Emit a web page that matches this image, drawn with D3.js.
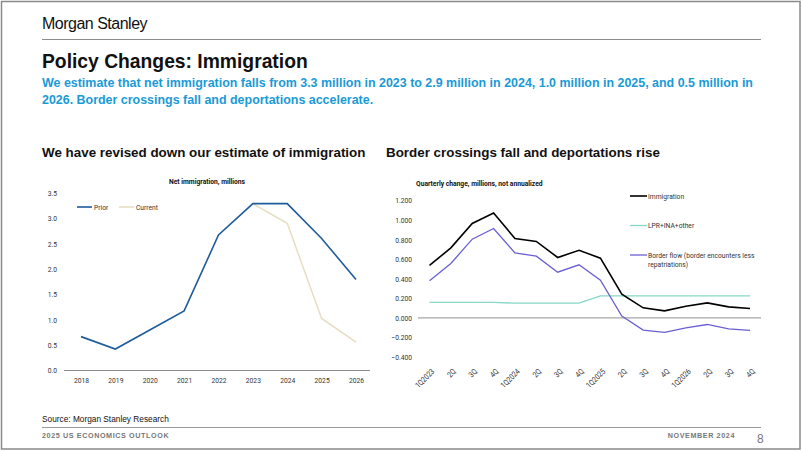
<!DOCTYPE html>
<html><head><meta charset="utf-8">
<script src="https://cdn.jsdelivr.net/npm/d3@7"></script>
<style>
html,body{margin:0;padding:0;background:#fff;}
svg{display:block;}
</style></head>
<body>
<svg id="c" width="802" height="451"></svg>
<script>
// ---- Data ----
const years = ["2018","2019","2020","2021","2022","2023","2024","2025","2026"];
const priorValues = [0.66, 0.415, 0.79, 1.17, 2.67, 3.29, 3.29, 2.6, 1.79];
const currentValues = [null, null, null, null, null, 3.29, 2.9, 1.02, 0.55];
const leftTicks = [0.0, 0.5, 1.0, 1.5, 2.0, 2.5, 3.0, 3.5];

const quarters = ["1Q2023","2Q","3Q","4Q","1Q2024","2Q","3Q","4Q","1Q2025","2Q","3Q","4Q","1Q2026","2Q","3Q","4Q"];
const immigration = [0.535, 0.714, 0.963, 1.071, 0.81, 0.78, 0.616, 0.69, 0.609, 0.242, 0.102, 0.071, 0.119, 0.153, 0.112, 0.096];
const lprIna = [0.157, 0.157, 0.157, 0.157, 0.15, 0.15, 0.15, 0.15, 0.225, 0.225, 0.225, 0.225, 0.225, 0.225, 0.225, 0.225];
const borderFlow = [0.378, 0.555, 0.803, 0.912, 0.663, 0.63, 0.466, 0.541, 0.385, 0.017, -0.126, -0.149, -0.102, -0.068, -0.112, -0.129];
const rightTicks = [-0.4, -0.2, 0.0, 0.2, 0.4, 0.6, 0.8, 1.0, 1.2];

const svg = d3.select("#c");
const SANS = "'Liberation Sans', Arial, sans-serif";
const COND = "'Roboto', 'Liberation Sans', sans-serif";
const FS = 8;
const SX = 0.84; // horizontal condensing to mimic a condensed face
const cond = `scale(${SX},1)`;

// helper: condensed text placed at (x,y)
function ctext(parent, x, y, str, opts = {}) {
  const g = parent.append("g").attr("transform", `translate(${x},${y}) ${cond}`);
  const t = g.append("text").text(str)
    .attr("font-family", COND).attr("font-size", opts.size || FS)
    .attr("fill", opts.fill || "#333")
    .attr("font-weight", opts.weight || "normal")
    .attr("text-anchor", opts.anchor || "start");
  return t;
}

// page frame
svg.append("rect").attr("x",1.5).attr("y",1.5).attr("width",798.5).attr("height",447.5)
  .attr("fill","none").attr("stroke","#8a8a8a").attr("stroke-width",1.5);

// header
svg.append("text").attr("x",42).attr("y",29).text("Morgan Stanley")
  .attr("font-family",SANS).attr("font-size",16).attr("fill","#111").attr("letter-spacing",-0.5);
svg.append("line").attr("x1",42).attr("x2",761).attr("y1",39.5).attr("y2",39.5).attr("stroke","#8c8c8c").attr("stroke-width",1);
svg.append("text").attr("x",42).attr("y",67.5).text("Policy Changes: Immigration")
  .attr("font-family",SANS).attr("font-size",19.3).attr("font-weight","bold").attr("fill","#111");
const sub = svg.append("text").attr("font-family",SANS).attr("font-size",12.45).attr("font-weight","bold").attr("fill","#1a9ad6");
sub.append("tspan").attr("x",42).attr("y",87).text("We estimate that net immigration falls from 3.3 million in 2023 to 2.9 million in 2024, 1.0 million in 2025, and 0.5 million in");
sub.append("tspan").attr("x",42).attr("y",104).text("2026. Border crossings fall and deportations accelerate.");

// chart titles
svg.append("text").attr("x",42).attr("y",157).text("We have revised down our estimate of immigration")
  .attr("font-family",SANS).attr("font-size",13.4).attr("font-weight","bold").attr("fill","#111");
svg.append("text").attr("x",386).attr("y",157).text("Border crossings fall and deportations rise")
  .attr("font-family",SANS).attr("font-size",13.4).attr("font-weight","bold").attr("fill","#111");

// ---------- Left chart ----------
const xL = d3.scalePoint().domain(years).range([81, 356]);
const yL = d3.scaleLinear().domain([0, 3.5]).range([370, 193]);

const gL = svg.append("g");
ctext(gL, 207, 184, "Net immigration, millions", {weight:"bold", fill:"#111", anchor:"middle"});

const yAxL = gL.append("g").attr("transform","translate(64,0)")
  .call(d3.axisLeft(yL).tickValues(leftTicks).tickFormat(d3.format(".1f")).tickSize(0).tickPadding(8.3));
yAxL.select(".domain").remove();
yAxL.selectAll("text").attr("font-family",COND).attr("font-size",FS).attr("fill","#333").attr("transform",cond);

const xAxL = gL.append("g").attr("transform","translate(0,370)")
  .call(d3.axisBottom(xL).tickSize(0).tickPadding(7.5));
xAxL.select(".domain").attr("d","M64,0.5H370").attr("stroke","#8c8c8c");
xAxL.selectAll("text").attr("font-family",COND).attr("font-size",FS).attr("fill","#333").attr("transform",cond);

const lineL = d3.line().defined(d => d.v != null).x(d => xL(d.k)).y(d => yL(d.v));
gL.append("path").datum(years.map((k,i)=>({k, v: currentValues[i]})))
  .attr("d", lineL).attr("fill","none").attr("stroke","#e6dec3").attr("stroke-width",1.5);
gL.append("path").datum(years.map((k,i)=>({k, v: priorValues[i]})))
  .attr("d", lineL).attr("fill","none").attr("stroke","#1f5c9c").attr("stroke-width",1.6);

// left legend
const legL = [{name:"Prior", color:"#1f5c9c", x:77},{name:"Current", color:"#e6dec3", x:119}];
legL.forEach(l=>{
  gL.append("line").attr("x1",l.x).attr("x2",l.x+15).attr("y1",207).attr("y2",207).attr("stroke",l.color).attr("stroke-width",1.6);
  ctext(gL, l.x+17, 209.8, l.name);
});

// ---------- Right chart ----------
const xR = d3.scalePoint().domain(d3.range(quarters.length)).range([429.5, 750]);
const yR = d3.scaleLinear().domain([-0.4, 1.2]).range([357, 200.3]);

const gR = svg.append("g");
ctext(gR, 416, 186, "Quarterly change, millions, not annualized", {weight:"bold", fill:"#111"});

const yAxR = gR.append("g").attr("transform","translate(412,0)")
  .call(d3.axisLeft(yR).tickValues(rightTicks).tickFormat(d3.format(".3f")).tickSize(0).tickPadding(0));
yAxR.select(".domain").remove();
yAxR.selectAll("text").attr("font-family",COND).attr("font-size",FS).attr("fill","#333").attr("transform",cond);

// zero line
gR.append("line").attr("x1",418).attr("x2",761).attr("y1",yR(0)).attr("y2",yR(0)).attr("stroke","#a6a6a6").attr("stroke-width",1.2);

const xAxR = gR.append("g").attr("transform","translate(0,362)")
  .call(d3.axisBottom(xR).tickFormat(i => quarters[i]).tickSize(0).tickPadding(0));
xAxR.select(".domain").remove();
xAxR.selectAll("text").attr("font-family",COND).attr("font-size",FS).attr("fill","#333")
  .attr("text-anchor","end").attr("dy","0.35em").attr("dx","0")
  .attr("transform",`translate(3,8) rotate(-45) ${cond}`);

const lineR = d3.line().x((d,i)=>xR(i)).y(d=>yR(d));
gR.append("path").datum(lprIna).attr("d",lineR).attr("fill","none").attr("stroke","#86d8c4").attr("stroke-width",1.3);
gR.append("path").datum(borderFlow).attr("d",lineR).attr("fill","none").attr("stroke","#6a5fd4").attr("stroke-width",1.3);
gR.append("path").datum(immigration).attr("d",lineR).attr("fill","none").attr("stroke","#000").attr("stroke-width",1.6);

// right legend
const legR = [
  {lines:["Immigration"], color:"#000", y:196, w:1.6},
  {lines:["LPR+INA+other"], color:"#86d8c4", y:225.5, w:1.3},
  {lines:["Border flow (border encounters less","repatriations)"], color:"#6a5fd4", y:255, w:1.3}
];
legR.forEach(l=>{
  gR.append("line").attr("x1",630).attr("x2",647).attr("y1",l.y).attr("y2",l.y).attr("stroke",l.color).attr("stroke-width",l.w);
  l.lines.forEach((s,j)=>ctext(gR, 648, l.y+2.8+j*9.5, s));
});

// footer
svg.append("text").attr("x",42).attr("y",422).text("Source: Morgan Stanley Research")
  .attr("font-family",SANS).attr("font-size",8.3).attr("fill","#111");
svg.append("line").attr("x1",42).attr("x2",761).attr("y1",427.5).attr("y2",427.5).attr("stroke","#9a9a9a").attr("stroke-width",1);
svg.append("text").attr("x",42).attr("y",438).text("2025 US ECONOMICS OUTLOOK")
  .attr("font-family",SANS).attr("font-size",7.2).attr("font-weight","bold").attr("fill","#777").attr("letter-spacing",0.6);
svg.append("text").attr("x",735).attr("y",438).attr("text-anchor","end").text("NOVEMBER 2024")
  .attr("font-family",SANS).attr("font-size",7.2).attr("font-weight","bold").attr("fill","#777").attr("letter-spacing",0.6);
svg.append("text").attr("x",757).attr("y",443).text("8")
  .attr("font-family",SANS).attr("font-size",12).attr("fill","#777");
</script>
</body></html>
